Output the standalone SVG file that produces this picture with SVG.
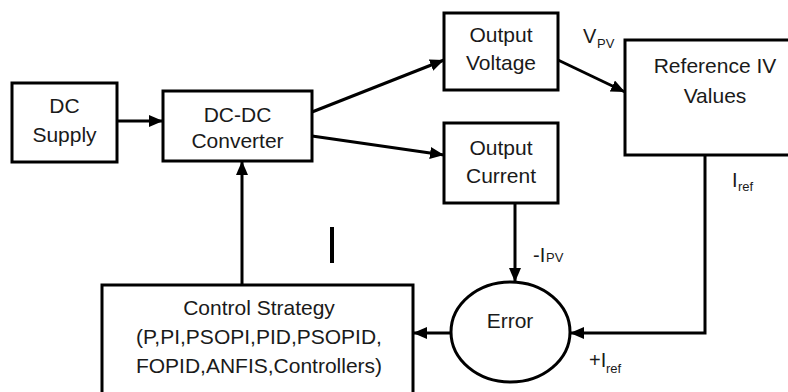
<svg xmlns="http://www.w3.org/2000/svg" width="788" height="392" viewBox="0 0 788 392">
<style>
.box{fill:#fff;stroke:#000;stroke-width:3}
.t{font-family:"Liberation Sans",Arial,sans-serif;font-size:21px;fill:#1a1a1a;text-anchor:middle}
.l{font-family:"Liberation Sans",Arial,sans-serif;font-size:20px;fill:#1a1a1a}
.s{font-family:"Liberation Sans",Arial,sans-serif;font-size:13px;fill:#1a1a1a}
.c{fill:none;stroke:#000;stroke-width:3}
</style>
<defs>
<marker id="ah" markerUnits="userSpaceOnUse" markerWidth="15" markerHeight="13" refX="14" refY="6" orient="auto">
<path d="M0,0 L14,6 L0,12 z" fill="#000"/>
</marker>
</defs>
<rect width="788" height="392" fill="#fff"/>
<g id="connectors">
<line class="c" x1="117" y1="121" x2="163" y2="121" marker-end="url(#ah)"/>
<line class="c" x1="312" y1="112" x2="444" y2="60" marker-end="url(#ah)"/>
<line class="c" x1="312" y1="136" x2="444" y2="155" marker-end="url(#ah)"/>
<line class="c" x1="558" y1="60" x2="625" y2="92" marker-end="url(#ah)"/>
<line class="c" x1="515" y1="203" x2="515" y2="282" marker-end="url(#ah)"/>
<polyline class="c" points="705,155 705,333 570,333" marker-end="url(#ah)"/>
<line class="c" x1="451" y1="333" x2="413" y2="333" marker-end="url(#ah)"/>
<line class="c" x1="242" y1="285" x2="242" y2="161" marker-end="url(#ah)"/>
<text class="l" x="583" y="43">V</text><text class="s" x="597" y="48">PV</text>
<text class="l" x="732" y="187">I</text><text class="s" x="738" y="191">ref</text>
<text class="l" x="533" y="262">-I</text><text class="s" x="546" y="262">PV</text>
<text class="l" x="589" y="367">+I</text><text class="s" x="606" y="373">ref</text>
</g>
<g id="dc-supply">
<rect class="box" x="12" y="83" width="105" height="79"/>
<text class="t" x="64.5" y="113">DC</text>
<text class="t" x="64.5" y="142">Supply</text>
</g>
<g id="dc-dc-converter">
<rect class="box" x="163" y="91" width="149" height="70"/>
<text class="t" x="237.5" y="122">DC-DC</text>
<text class="t" x="237.5" y="148">Converter</text>
</g>
<g id="output-voltage">
<rect class="box" x="444" y="13" width="114" height="77"/>
<text class="t" x="501" y="42">Output</text>
<text class="t" x="501" y="70">Voltage</text>
</g>
<g id="output-current">
<rect class="box" x="444" y="123" width="114" height="80"/>
<text class="t" x="501" y="155">Output</text>
<text class="t" x="501" y="183">Current</text>
</g>
<g id="reference-iv">
<rect class="box" x="625" y="40" width="200" height="115"/>
<text class="t" x="715" y="73">Reference IV</text>
<text class="t" x="715" y="103">Values</text>
</g>
<g id="error">
<ellipse class="box" cx="510.5" cy="332" rx="59.5" ry="50"/>
<text class="t" x="510" y="328">Error</text>
</g>
<g id="control-strategy">
<rect class="box" x="102" y="285" width="311" height="120"/>
<text class="t" x="259" y="315">Control Strategy</text>
<text class="t" x="259" y="344">(P,PI,PSOPI,PID,PSOPID,</text>
<text class="t" x="259" y="373">FOPID,ANFIS,Controllers)</text>
</g>
<line x1="332" y1="227" x2="332" y2="263" stroke="#000" stroke-width="4"/>
</svg>
